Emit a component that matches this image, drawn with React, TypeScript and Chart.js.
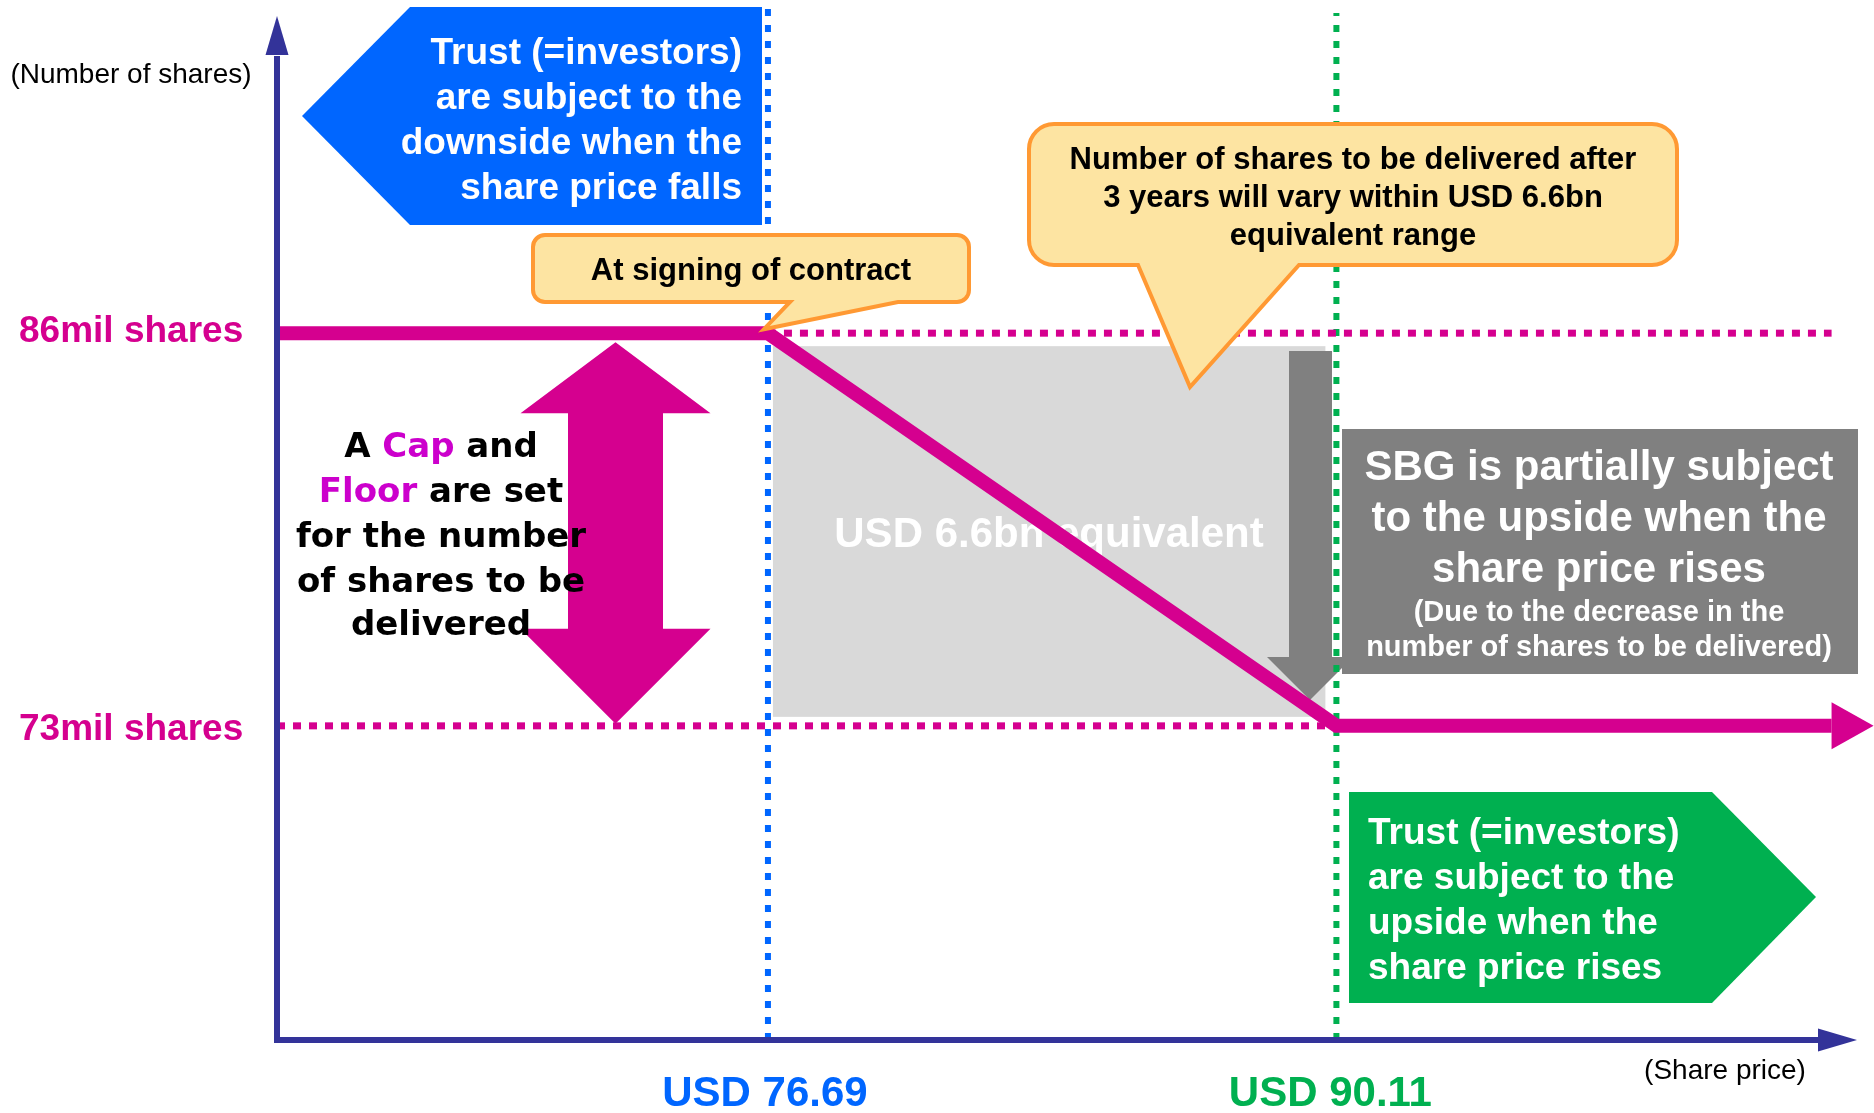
import React, { useEffect, useRef } from "react";
import { Chart, registerables } from "chart.js";

Chart.register(...registerables);

// ---- data ----
const strikePrices = [76.69, 90.11];
const priceTickLabels = ["USD 76.69", "USD 90.11"];
const shareLevels = [86, 73];
const shareTickLabels = ["86mil shares", "73mil shares"];
const deliveredPrices = [65.1, 76.69, 90.11, 101.8];
const deliveredShares = [86, 86, 73, 73];
const xRange = [65.1, 102.4];
const yRange = [62.6, 96.5];
const yTopExtent = [97.0, 96.6];

const AR = '"Liberation Sans", Arial, sans-serif';
const DV = '"DejaVu Sans", Verdana, sans-serif';
const MAGENTA = "#d5008f";
const BLUE = "#0066ff";
const GREEN = "#00b050";
const AXIS = "#333399";
const CALLOUT_FILL = "#fde4a2";
const CALLOUT_BORDER = "#ff9933";

function txt(ctx: CanvasRenderingContext2D, s: string, x: number, y: number, font: string, color: string, align: CanvasTextAlign = "center") {
  ctx.font = font;
  ctx.fillStyle = color;
  ctx.textAlign = align;
  ctx.textBaseline = "middle";
  ctx.fillText(s, x, y);
}

function poly(ctx: CanvasRenderingContext2D, pts: number[][], fill: string) {
  ctx.beginPath();
  ctx.moveTo(pts[0][0], pts[0][1]);
  for (let i = 1; i < pts.length; i++) ctx.lineTo(pts[i][0], pts[i][1]);
  ctx.closePath();
  ctx.fillStyle = fill;
  ctx.fill();
}

function callout(ctx: CanvasRenderingContext2D, x0: number, y0: number, x1: number, y1: number, r: number, pbL: number, pbR: number, tx: number, ty: number) {
  ctx.beginPath();
  ctx.moveTo(x0 + r, y0);
  ctx.lineTo(x1 - r, y0);
  ctx.arcTo(x1, y0, x1, y0 + r, r);
  ctx.lineTo(x1, y1 - r);
  ctx.arcTo(x1, y1, x1 - r, y1, r);
  ctx.lineTo(pbR, y1);
  ctx.lineTo(tx, ty);
  ctx.lineTo(pbL, y1);
  ctx.lineTo(x0 + r, y1);
  ctx.arcTo(x0, y1, x0, y1 - r, r);
  ctx.lineTo(x0, y0 + r);
  ctx.arcTo(x0, y0, x0 + r, y0, r);
  ctx.closePath();
  ctx.fillStyle = CALLOUT_FILL;
  ctx.fill();
  ctx.lineWidth = 4;
  ctx.strokeStyle = CALLOUT_BORDER;
  ctx.lineJoin = "miter";
  ctx.stroke();
}

function mixedLine(ctx: CanvasRenderingContext2D, parts: [string, string][], cx: number, y: number, font: string) {
  ctx.font = font;
  const total = parts.reduce((a, p) => a + ctx.measureText(p[0]).width, 0);
  let x = cx - total / 2;
  ctx.textAlign = "left";
  ctx.textBaseline = "middle";
  for (const [s, c] of parts) {
    ctx.fillStyle = c;
    ctx.fillText(s, x, y);
    x += ctx.measureText(s).width;
  }
}

const backPlugin = {
  id: "backLayer",
  beforeDatasetsDraw(chart: any) {
    const { ctx, scales } = chart;
    const x = scales.x, y = scales.y;
    ctx.save();
    const gx0 = x.getPixelForValue(strikePrices[0]) + 5;
    const gx1 = x.getPixelForValue(strikePrices[1]) - 11;
    const gy0 = y.getPixelForValue(shareLevels[0]) + 13;
    const gy1 = y.getPixelForValue(shareLevels[1]) - 9;
    ctx.fillStyle = "#d9d9d9";
    ctx.fillRect(gx0, gy0, gx1 - gx0, gy1 - gy0);
    txt(ctx, "USD 6.6bn equivalent", 1049, 535, `bold 42px ${AR}`, "#ffffff");
    // dark grey down arrow
    poly(ctx, [[1289, 351], [1332, 351], [1332, 657], [1353, 657], [1310, 700], [1267, 657], [1289, 657]], "#808080");
    ctx.restore();
  },
};

const frontPlugin = {
  id: "frontLayer",
  afterDatasetsDraw(chart: any) {
    const { ctx, scales, chartArea } = chart;
    const x = scales.x, y = scales.y;
    ctx.save();
    // arrow head of the delivered line
    const last = deliveredPrices.length - 1;
    const hx = x.getPixelForValue(deliveredPrices[last]);
    const hy = y.getPixelForValue(deliveredShares[last]);
    poly(ctx, [[hx, hy - 23.5], [hx + 42, hy], [hx, hy + 23.5]], MAGENTA);

    // double arrow (cap & floor)
    const cx = 615.5;
    const topY = y.getPixelForValue(shareLevels[0]) + 9;
    const botY = y.getPixelForValue(shareLevels[1]) - 2;
    poly(ctx, [
      [cx, topY], [cx + 95, topY + 71], [cx + 47.5, topY + 71], [cx + 47.5, botY - 95], [cx + 95, botY - 95],
      [cx, botY], [cx - 95, botY - 95], [cx - 47.5, botY - 95], [cx - 47.5, topY + 71], [cx - 95, topY + 71],
    ], MAGENTA);
    const f34 = `bold 34px ${DV}`;
    const PURP = "#cc00cc";
    mixedLine(ctx, [["A ", "#000"], ["Cap", PURP], [" and", "#000"]], 441, 448, f34);
    mixedLine(ctx, [["Floor", PURP], [" are set", "#000"]], 441, 493, f34);
    mixedLine(ctx, [["for the number", "#000"]], 441, 538, f34);
    mixedLine(ctx, [["of shares to be", "#000"]], 441, 583, f34);
    mixedLine(ctx, [["delivered", "#000"]], 441, 626, f34);

    // blue pentagon
    poly(ctx, [[410, 7], [762, 7], [762, 225], [410, 225], [302, 116]], BLUE);
    const f37 = `bold 37px ${AR}`;
    ["Trust (=investors)", "are subject to the", "downside when the", "share price falls"].forEach((s, i) =>
      txt(ctx, s, 742, 54 + i * 45, f37, "#fff", "right"));

    // callouts
    const sx = x.getPixelForValue(strikePrices[0]);
    const sy = y.getPixelForValue(shareLevels[0]);
    callout(ctx, 533, 235, 969, 302, 12, 790, 898, sx - 4, sy - 4);
    txt(ctx, "At signing of contract", 751, 271, `bold 31px ${AR}`, "#000");
    callout(ctx, 1029, 124, 1677, 265, 25, 1138, 1299, 1190, 387);
    ["Number of shares to be delivered after", "3 years will vary within USD 6.6bn", "equivalent range"].forEach((s, i) =>
      txt(ctx, s, 1353, 160 + i * 38, `bold 31px ${AR}`, "#000"));

    // SBG box
    ctx.fillStyle = "#808080";
    ctx.fillRect(1342, 429, 516, 245);
    ["SBG is partially subject", "to the upside when the", "share price rises"].forEach((s, i) =>
      txt(ctx, s, 1599, 468 + i * 51, `bold 42px ${AR}`, "#fff"));
    ["(Due to the decrease in the", "number of shares to be delivered)"].forEach((s, i) =>
      txt(ctx, s, 1599, 613 + i * 35, `bold 29px ${AR}`, "#fff"));

    // green pentagon
    poly(ctx, [[1349, 792], [1712, 792], [1816, 897], [1712, 1003], [1349, 1003]], GREEN);
    ["Trust (=investors)", "are subject to the", "upside when the", "share price rises"].forEach((s, i) =>
      txt(ctx, s, 1368, 834 + i * 45, f37, "#fff", "left"));

    // axes with arrows
    const ax0 = chartArea.left, ay0 = chartArea.bottom;
    ctx.strokeStyle = AXIS;
    ctx.lineWidth = 6;
    ctx.lineCap = "butt";
    ctx.beginPath();
    ctx.moveTo(ax0, ay0 + 3);
    ctx.lineTo(ax0, chartArea.top + 40);
    ctx.moveTo(ax0 - 3, ay0);
    ctx.lineTo(chartArea.right - 36, ay0);
    ctx.stroke();
    poly(ctx, [[ax0 - 11.5, chartArea.top + 39], [ax0, chartArea.top], [ax0 + 11.5, chartArea.top + 39]], AXIS);
    poly(ctx, [[chartArea.right - 39, ay0 - 11.5], [chartArea.right, ay0], [chartArea.right - 39, ay0 + 11.5]], AXIS);

    // axis texts
    txt(ctx, "(Number of shares)", 131, 75, `28px ${AR}`, "#000");
    txt(ctx, "(Share price)", 1725, 1071, `28px ${AR}`, "#000");
    shareTickLabels.forEach((s, i) =>
      txt(ctx, s, 19, y.getPixelForValue(shareLevels[i]) + (i === 0 ? -1 : 4), `bold 37px ${AR}`, MAGENTA, "left"));
    const tickColors = [BLUE, GREEN];
    priceTickLabels.forEach((s, i) =>
      txt(ctx, s, x.getPixelForValue(strikePrices[i]) - (i === 0 ? 3 : 6), 1094, `bold 42px ${AR}`, tickColors[i]));
    ctx.restore();
  },
};

export default function App() {
  const ref = useRef<HTMLCanvasElement | null>(null);
  useEffect(() => {
    if (!ref.current) return;
    const pts = (xs: number[], ys: number[]) => xs.map((v, i) => ({ x: v, y: ys[i] }));
    const chart = new Chart(ref.current, {
      type: "scatter",
      data: {
        datasets: [
          {
            label: "Shares delivered",
            data: pts(deliveredPrices, deliveredShares),
            showLine: true,
            borderColor: MAGENTA,
            borderWidth: 14,
            pointRadius: 0,
            borderJoinStyle: "miter",
            borderCapStyle: "butt",
            clip: false,
          } as any,
          {
            label: "Cap",
            data: pts([strikePrices[0], deliveredPrices[3]], [shareLevels[0], shareLevels[0]]),
            showLine: true,
            borderColor: MAGENTA,
            borderWidth: 7,
            borderDash: [8, 8],
            pointRadius: 0,
            clip: false,
          } as any,
          {
            label: "Floor",
            data: pts([xRange[0], strikePrices[1]], [shareLevels[1], shareLevels[1]]),
            showLine: true,
            borderColor: MAGENTA,
            borderWidth: 7,
            borderDash: [8, 8],
            pointRadius: 0,
            clip: false,
          } as any,
          {
            label: "Strike low",
            data: pts([strikePrices[0], strikePrices[0]], [yRange[0], yTopExtent[0]]),
            showLine: true,
            borderColor: BLUE,
            borderWidth: 6,
            borderDash: [7, 9],
            pointRadius: 0,
            clip: false,
          } as any,
          {
            label: "Strike high",
            data: pts([strikePrices[1], strikePrices[1]], [yRange[0], yTopExtent[1]]),
            showLine: true,
            borderColor: GREEN,
            borderWidth: 6,
            borderDash: [7, 9],
            pointRadius: 0,
            clip: false,
          } as any,
        ],
      },
      options: {
        animation: false,
        responsive: false,
        devicePixelRatio: 1,
        layout: { padding: { left: 277, right: 17, top: 16, bottom: 73 } },
        plugins: { legend: { display: false }, tooltip: { enabled: false } },
        scales: {
          x: { type: "linear", min: xRange[0], max: xRange[1], display: false },
          y: { type: "linear", min: yRange[0], max: yRange[1], display: false },
        },
      },
      plugins: [backPlugin, frontPlugin],
    } as any);
    return () => chart.destroy();
  }, []);
  return (
    <div style={{ position: "fixed", left: 0, top: 0, width: 1874, height: 1113, background: "#fff" }}>
      <canvas ref={ref} width={1874} height={1113} style={{ width: 1874, height: 1113, display: "block" }} />
    </div>
  );
}
